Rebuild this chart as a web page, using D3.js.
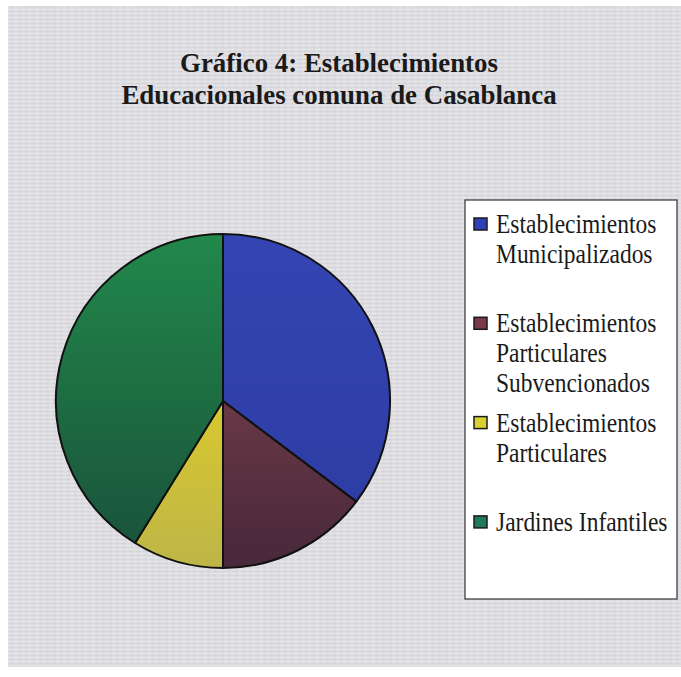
<!DOCTYPE html>
<html>
<head>
<meta charset="utf-8">
<script src="https://cdn.jsdelivr.net/npm/d3@7"></script>
<style>
  body { margin: 0; background: #fff; }
  svg { display: block; }
</style>
</head>
<body>
<div id="chart"></div>
<script>
// data
var titleLines = ["Gráfico 4: Establecimientos", "Educacionales comuna de Casablanca"];
var categories = [
  "Establecimientos Municipalizados",
  "Establecimientos Particulares Subvencionados",
  "Establecimientos Particulares",
  "Jardines Infantiles"
];
var legendLines = [
  ["Establecimientos", "Municipalizados"],
  ["Establecimientos", "Particulares", "Subvencionados"],
  ["Establecimientos", "Particulares"],
  ["Jardines Infantiles"]
];
var values = [12, 5, 3, 14];
var colorsTop = ["#3445b2", "#8c4852", "#f4dc14", "#22884b"];
var colorsBottom = ["#2d3ba2", "#47283a", "#bdb548", "#19503a"];
var swatchColors = ["#2e40b8", "#7a3a4a", "#d8d030", "#1f7a58"];

var width = 681, height = 677;
var serif = "'Liberation Serif', 'Times New Roman', serif";

var svg = d3.select("#chart").append("svg")
    .attr("width", width)
    .attr("height", height);

var defs = svg.append("defs");

// scanned paper look: faint horizontal streaks
var pat = defs.append("pattern")
    .attr("id", "paper")
    .attr("width", 7).attr("height", 4)
    .attr("patternUnits", "userSpaceOnUse");
pat.append("rect").attr("width", 7).attr("height", 4).attr("fill", "#dddce0");
pat.append("rect").attr("y", 1).attr("width", 5).attr("height", 1).attr("fill", "#e7e6e9");
pat.append("rect").attr("x", 3).attr("y", 3).attr("width", 4).attr("height", 1).attr("fill", "#d4d3d9");

svg.append("rect")
    .attr("x", 8).attr("y", 6)
    .attr("width", width - 8).attr("height", 661)
    .attr("fill", "url(#paper)");

// title (scan is a bit squeezed horizontally)
svg.append("g").selectAll("text")
  .data(titleLines)
  .enter().append("text")
    .attr("transform", function(d, i) { return "translate(339," + (72 + i * 32) + ") scale(0.96,1)"; })
    .attr("text-anchor", "middle")
    .style("font-family", serif)
    .style("font-weight", "bold")
    .style("font-size", "28px")
    .attr("fill", "#1a1a1a")
    .text(function(d) { return d; });

// pie
var cx = 223, cy = 401, radius = 167;

categories.forEach(function(c, i) {
  var g = defs.append("linearGradient")
      .attr("id", "grad" + i)
      .attr("gradientUnits", "userSpaceOnUse")
      .attr("x1", 0).attr("y1", -radius)
      .attr("x2", 0).attr("y2", radius);
  g.append("stop").attr("offset", "0%").attr("stop-color", colorsTop[i]);
  g.append("stop").attr("offset", "100%").attr("stop-color", colorsBottom[i]);
});

var pie = d3.pie().sort(null).value(function(d) { return d; });
var arc = d3.arc().innerRadius(0).outerRadius(radius);

var pieG = svg.append("g")
    .attr("transform", "translate(" + cx + "," + cy + ")");

pieG.selectAll("path")
  .data(pie(values))
  .enter().append("path")
    .attr("d", arc)
    .attr("fill", function(d, i) { return "url(#grad" + i + ")"; })
    .attr("stroke", "#111")
    .attr("stroke-width", 2)
    .attr("stroke-linejoin", "round");

// legend
var legend = svg.append("g");
legend.append("rect")
    .attr("x", 465).attr("y", 200)
    .attr("width", 212).attr("height", 399)
    .attr("fill", "#fff")
    .attr("stroke", "#333")
    .attr("stroke-width", 1.2);

var items = legend.selectAll("g.item")
  .data(legendLines)
  .enter().append("g")
    .attr("class", "item")
    .attr("transform", function(d, i) { return "translate(0," + (233 + i * 99.3) + ")"; });

items.append("rect")
    .attr("x", 474).attr("y", -15)
    .attr("width", 13).attr("height", 12)
    .attr("fill", function(d, i) { return swatchColors[i]; })
    .attr("stroke", "#1a1a1a")
    .attr("stroke-width", 1.5);

items.selectAll("text")
  .data(function(d) { return d; })
  .enter().append("text")
    .attr("transform", function(d, j) { return "translate(496," + (j * 30) + ") scale(0.87,1)"; })
    .style("font-family", serif)
    .style("font-size", "27px")
    .attr("fill", "#1a1a1a")
    .text(function(d) { return d; });
</script>
</body>
</html>
